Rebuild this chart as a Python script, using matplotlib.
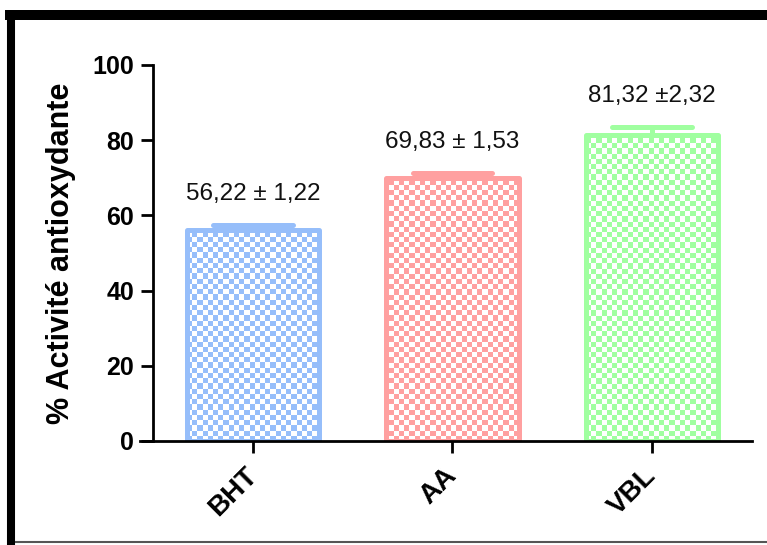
import numpy as np
import matplotlib
matplotlib.use("Agg")
import matplotlib.pyplot as plt
from matplotlib.lines import Line2D
from matplotlib.transforms import ScaledTranslation

plt.rcParams['font.family'] = ['Liberation Sans', 'DejaVu Sans']

categories = ["BHT", "AA", "VBL"]
values = [56.22, 69.83, 81.32]
errors = [1.22, 1.53, 2.32]
labels = ["56,22 ± 1,22", "69,83 ± 1,53", "81,32 ±2,32"]
colors = ["#96BEFA", "#FFA0A0", "#A0FFA0"]
yticks = [0, 20, 40, 60, 80, 100]
ylabel = "% Activité antioxydante"

W, H = 767, 545
fig = plt.figure(figsize=(W / 100, H / 100), dpi=100)
ax = fig.add_axes([140 / W, 104 / H, 612 / W, 376 / H])
xlim = (-0.565, 2.5)
ylim = (0, 100)

x = np.arange(len(categories))
bars = ax.bar(x, values, width=0.662, facecolor='none', edgecolor=colors,
              linewidth=3.6, zorder=3)
for b in bars:
    b.set_joinstyle('round')

# checkerboard fill clipped to each bar
cell = 5.2
nx = int(round(612 / cell))
ny = int(round(376 / cell))
ii, jj = np.indices((ny, nx))
mask = ((ii + jj) % 2).astype(bool)
for b, c in zip(bars, colors):
    rgb = np.ones((ny, nx, 3))
    col = np.array(matplotlib.colors.to_rgb(c))
    rgb[mask] = col
    im = ax.imshow(rgb, extent=(xlim[0], xlim[1], ylim[0], ylim[1]),
                   interpolation='nearest', aspect='auto', zorder=2, origin='lower')
    im.set_clip_path(b)

# error bars (upper only) and labels
for xi, v, e, c, lab in zip(x, values, errors, colors, labels):
    ax.vlines(xi, v, v + e, colors=c, linewidth=3.6, zorder=2.5)
    ax.hlines(v + e, xi - 0.2, xi + 0.2, colors=c, linewidth=3.6,
              capstyle='round', zorder=2.5)
    ax.annotate(lab, (xi, v + e), xytext=(0, 22), textcoords='offset points',
                ha='center', va='center', fontsize=17.5, color='#111111')

ax.set_xlim(*xlim)
ax.set_ylim(*ylim)

for s in ['top', 'right']:
    ax.spines[s].set_visible(False)
ax.spines['left'].set_position(('data', -0.5))
ax.spines['left'].set_bounds(0, 100)
for s in ['left', 'bottom']:
    ax.spines[s].set_linewidth(2.0)
    ax.spines[s].set_zorder(4)

ax.set_yticks(yticks)
ax.set_yticklabels([str(t) for t in yticks], fontweight='bold', fontsize=18)
ax.set_xticks(x)
ax.set_xticklabels(categories, fontweight='bold', fontsize=20, rotation=45,
                   ha='right', va='top', rotation_mode='anchor')
ax.tick_params(axis='both', direction='out', length=8.5, width=2.0, pad=5)
ax.tick_params(axis='x', pad=7)
shift = ScaledTranslation(-9 / 100, 0, fig.dpi_scale_trans)
for lbl in ax.get_xticklabels():
    lbl.set_transform(lbl.get_transform() + shift)
ax.set_ylabel(ylabel, fontweight='bold', fontsize=22, labelpad=12)

# outer frame
fig.add_artist(Line2D([5 / W, 1], [1 - 15 / H, 1 - 15 / H], transform=fig.transFigure,
                      color='black', linewidth=7.2, solid_capstyle='butt'))
fig.add_artist(Line2D([11 / W, 11 / W], [1 - 10 / H, 0], transform=fig.transFigure,
                      color='black', linewidth=5.8, solid_capstyle='butt'))
fig.add_artist(Line2D([15 / W, 1], [3 / H, 3 / H], transform=fig.transFigure,
                      color='#555555', linewidth=1.5, solid_capstyle='butt'))

fig.savefig("out.png", dpi=100)
